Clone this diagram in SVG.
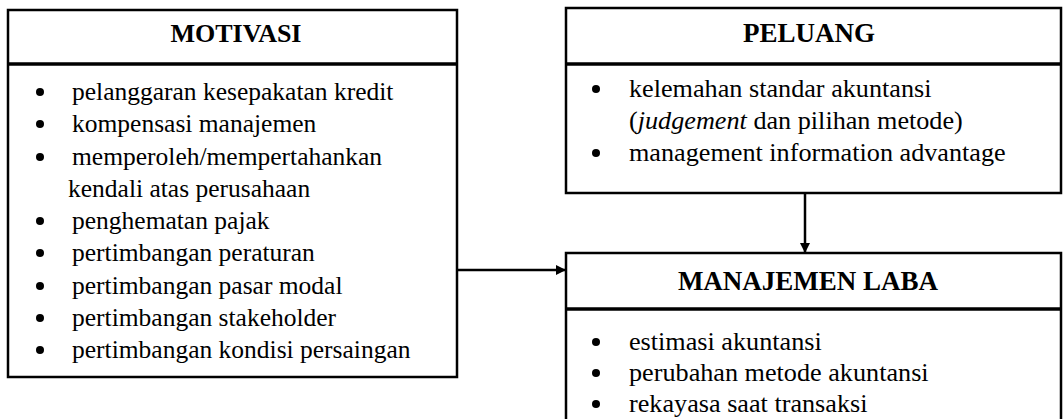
<svg xmlns="http://www.w3.org/2000/svg" width="1063" height="419" viewBox="0 0 1063 419">
<style>
.box{fill:#fff;stroke:#000;stroke-width:2.5}
.div{stroke:#000;stroke-width:3.5}
.t{font-family:"Liberation Serif","Times New Roman",serif;font-size:25.5px;fill:#000}
.tr{font-family:"Liberation Serif","Times New Roman",serif;font-size:26.2px;fill:#000}
.h{font-family:"Liberation Serif","Times New Roman",serif;font-size:26px;font-weight:bold;fill:#000;text-anchor:middle}
.hr{font-family:"Liberation Serif","Times New Roman",serif;font-size:27px;font-weight:bold;fill:#000;text-anchor:middle}
.b{fill:#000}
.c{stroke:#000;stroke-width:2.5;fill:none}
</style>
<defs>
<marker id="ah" markerWidth="10" markerHeight="10" refX="9" refY="5" orient="auto" markerUnits="userSpaceOnUse">
<path d="M0,0 L10,5 L0,10 Z" fill="#000"/>
</marker>
</defs>
<rect width="1063" height="419" fill="#fff"/>
<g id="motivasi">
<rect class="box" x="8" y="10" width="449" height="367"/>
<line class="div" x1="8" y1="64" x2="457" y2="64"/>
<text class="h" x="236" y="42">MOTIVASI</text>
<circle class="b" cx="40" cy="92" r="4"/><text class="t" x="72" y="100">pelanggaran kesepakatan kredit</text>
<circle class="b" cx="40" cy="124" r="4"/><text class="t" x="72" y="132">kompensasi manajemen</text>
<circle class="b" cx="40" cy="157" r="4"/><text class="t" x="72" y="165">memperoleh/mempertahankan</text>
<text class="t" x="68" y="197">kendali atas perusahaan</text>
<circle class="b" cx="40" cy="221" r="4"/><text class="t" x="72" y="229">penghematan pajak</text>
<circle class="b" cx="40" cy="253" r="4"/><text class="t" x="72" y="261">pertimbangan peraturan</text>
<circle class="b" cx="40" cy="286" r="4"/><text class="t" x="72" y="294">pertimbangan pasar modal</text>
<circle class="b" cx="40" cy="318" r="4"/><text class="t" x="72" y="326">pertimbangan stakeholder</text>
<circle class="b" cx="40" cy="350" r="4"/><text class="t" x="72" y="358">pertimbangan kondisi persaingan</text>
</g>
<g id="peluang">
<rect class="box" x="566" y="8" width="495" height="185"/>
<line class="div" x1="566" y1="64" x2="1061" y2="64"/>
<text class="hr" x="809" y="42">PELUANG</text>
<circle class="b" cx="596" cy="89" r="4"/><text class="tr" x="629" y="97">kelemahan standar akuntansi</text>
<text class="tr" x="629" y="129">(<tspan font-style="italic">judgement</tspan> dan pilihan metode)</text>
<circle class="b" cx="596" cy="153" r="4"/><text class="tr" x="629" y="161">management information advantage</text>
</g>
<g id="manajemen">
<rect class="box" x="566" y="253" width="495" height="180"/>
<line class="div" x1="566" y1="309" x2="1061" y2="309"/>
<text class="hr" x="808" y="290">MANAJEMEN LABA</text>
<circle class="b" cx="596" cy="342" r="4"/><text class="tr" x="629" y="350">estimasi akuntansi</text>
<circle class="b" cx="596" cy="373" r="4"/><text class="tr" x="629" y="381">perubahan metode akuntansi</text>
<circle class="b" cx="596" cy="404" r="4"/><text class="tr" x="629" y="412">rekayasa saat transaksi</text>
</g>
<g id="connectors">
<line class="c" x1="805" y1="193" x2="805" y2="252" marker-end="url(#ah)"/>
<line class="c" x1="456" y1="270" x2="565" y2="270" marker-end="url(#ah)"/>
</g>
</svg>
